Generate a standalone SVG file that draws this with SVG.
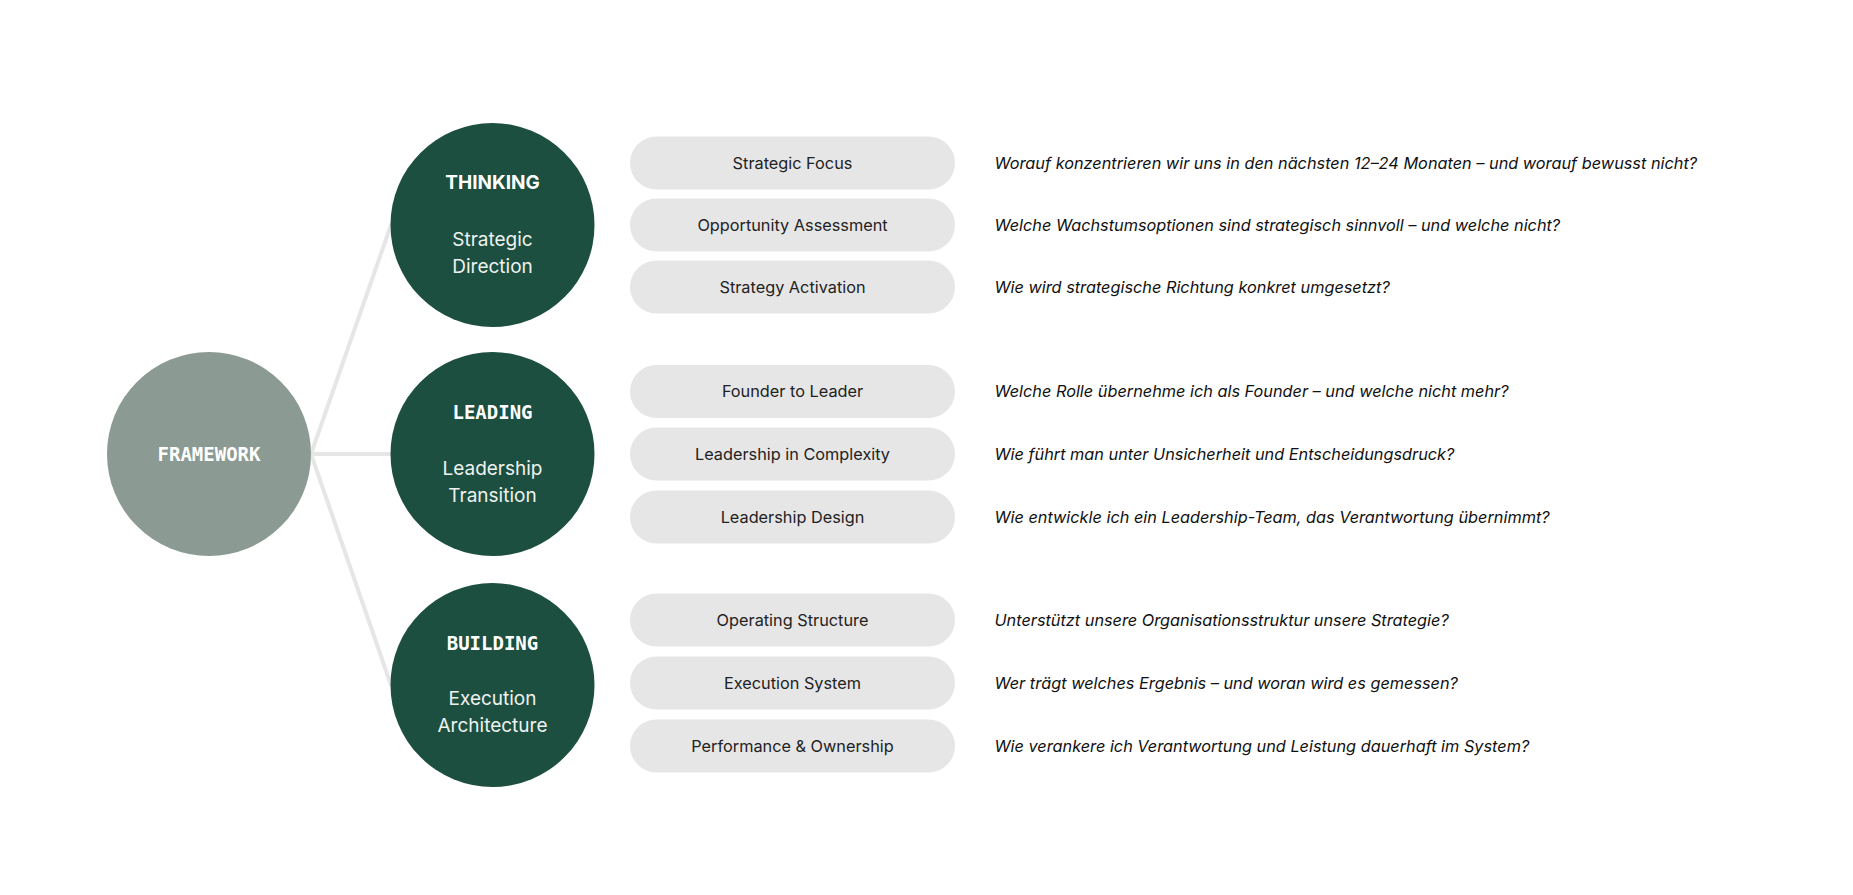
<svg xmlns="http://www.w3.org/2000/svg" width="1853" height="895" viewBox="0 0 1853 895">
  <style>
    .hub { fill: #8b9a92; }
    .pillar { fill: #1c4f40; }
    .pill { fill: #e6e6e6; }
    .conn { stroke: #e6e6e6; stroke-width: 4; fill: none; stroke-linecap: round; }
    .mono { font-family: "DejaVu Sans Mono", "Liberation Mono", monospace; font-weight: bold; font-size: 19px; fill: #ffffff; text-anchor: middle; }
    .title { font-family: Inter, "Noto Sans", sans-serif; font-weight: bold; font-size: 19px; fill: #ffffff; text-anchor: middle; }
    .sub { font-family: Inter, "Noto Sans", sans-serif; font-size: 19px; fill: #eef2ef; text-anchor: middle; }
    .pilltxt { font-family: Inter, "Noto Sans", sans-serif; font-size: 16.3px; fill: #222222; text-anchor: middle; }
    .q { font-family: Inter, "Noto Sans", sans-serif; font-size: 16.3px; font-style: italic; fill: #111111; }
  </style>
  <rect x="0" y="0" width="1853" height="895" fill="#ffffff"/>

  <g id="connectors">
    <line class="conn" x1="311" y1="454" x2="391" y2="225"/>
    <line class="conn" x1="311" y1="454" x2="391" y2="454"/>
    <line class="conn" x1="311" y1="454" x2="391" y2="685"/>
  </g>

  <g id="framework">
    <circle class="hub" cx="209" cy="454" r="102"/>
    <text class="mono" x="209" y="461">FRAMEWORK</text>
  </g>

  <g id="thinking">
    <circle class="pillar" cx="492.5" cy="225" r="102"/>
    <text class="title" x="492.5" y="188.5">THINKING</text>
    <text class="sub" x="492.5" y="245.5">Strategic</text>
    <text class="sub" x="492.5" y="272.5">Direction</text>
  </g>

  <g id="leading">
    <circle class="pillar" cx="492.5" cy="454" r="102"/>
    <text class="mono" x="492.5" y="419">LEADING</text>
    <text class="sub" x="492.5" y="475">Leadership</text>
    <text class="sub" x="492.5" y="502">Transition</text>
  </g>

  <g id="building">
    <circle class="pillar" cx="492.5" cy="685" r="102"/>
    <text class="mono" x="492.5" y="649.5">BUILDING</text>
    <text class="sub" x="492.5" y="704.5">Execution</text>
    <text class="sub" x="492.5" y="731.5">Architecture</text>
  </g>

  <g id="strategic-focus">
    <rect class="pill" x="630" y="136.5" width="325" height="53" rx="26.5"/>
    <text class="pilltxt" x="792.5" y="168.5">Strategic Focus</text>
    <text class="q" x="994.5" y="168.5">Worauf konzentrieren wir uns in den nächsten 12–24 Monaten – und worauf bewusst nicht?</text>
  </g>
  <g id="opportunity-assessment">
    <rect class="pill" x="630" y="198.5" width="325" height="53" rx="26.5"/>
    <text class="pilltxt" x="792.5" y="230.5">Opportunity Assessment</text>
    <text class="q" x="994.5" y="230.5">Welche Wachstumsoptionen sind strategisch sinnvoll – und welche nicht?</text>
  </g>
  <g id="strategy-activation">
    <rect class="pill" x="630" y="260.5" width="325" height="53" rx="26.5"/>
    <text class="pilltxt" x="792.5" y="292.5">Strategy Activation</text>
    <text class="q" x="994.5" y="292.5">Wie wird strategische Richtung konkret umgesetzt?</text>
  </g>

  <g id="founder-to-leader">
    <rect class="pill" x="630" y="365" width="325" height="53" rx="26.5"/>
    <text class="pilltxt" x="792.5" y="397">Founder to Leader</text>
    <text class="q" x="994.5" y="397">Welche Rolle übernehme ich als Founder – und welche nicht mehr?</text>
  </g>
  <g id="leadership-in-complexity">
    <rect class="pill" x="630" y="427.5" width="325" height="53" rx="26.5"/>
    <text class="pilltxt" x="792.5" y="459.5">Leadership in Complexity</text>
    <text class="q" x="994.5" y="459.5">Wie führt man unter Unsicherheit und Entscheidungsdruck?</text>
  </g>
  <g id="leadership-design">
    <rect class="pill" x="630" y="490.5" width="325" height="53" rx="26.5"/>
    <text class="pilltxt" x="792.5" y="522.5">Leadership Design</text>
    <text class="q" x="994.5" y="522.5">Wie entwickle ich ein Leadership-Team, das Verantwortung übernimmt?</text>
  </g>

  <g id="operating-structure">
    <rect class="pill" x="630" y="593.5" width="325" height="53" rx="26.5"/>
    <text class="pilltxt" x="792.5" y="625.5">Operating Structure</text>
    <text class="q" x="994.5" y="625.5">Unterstützt unsere Organisationsstruktur unsere Strategie?</text>
  </g>
  <g id="execution-system">
    <rect class="pill" x="630" y="656.5" width="325" height="53" rx="26.5"/>
    <text class="pilltxt" x="792.5" y="688.5">Execution System</text>
    <text class="q" x="994.5" y="688.5">Wer trägt welches Ergebnis – und woran wird es gemessen?</text>
  </g>
  <g id="performance-ownership">
    <rect class="pill" x="630" y="719.5" width="325" height="53" rx="26.5"/>
    <text class="pilltxt" x="792.5" y="751.5">Performance &amp; Ownership</text>
    <text class="q" x="994.5" y="751.5">Wie verankere ich Verantwortung und Leistung dauerhaft im System?</text>
  </g>
</svg>
